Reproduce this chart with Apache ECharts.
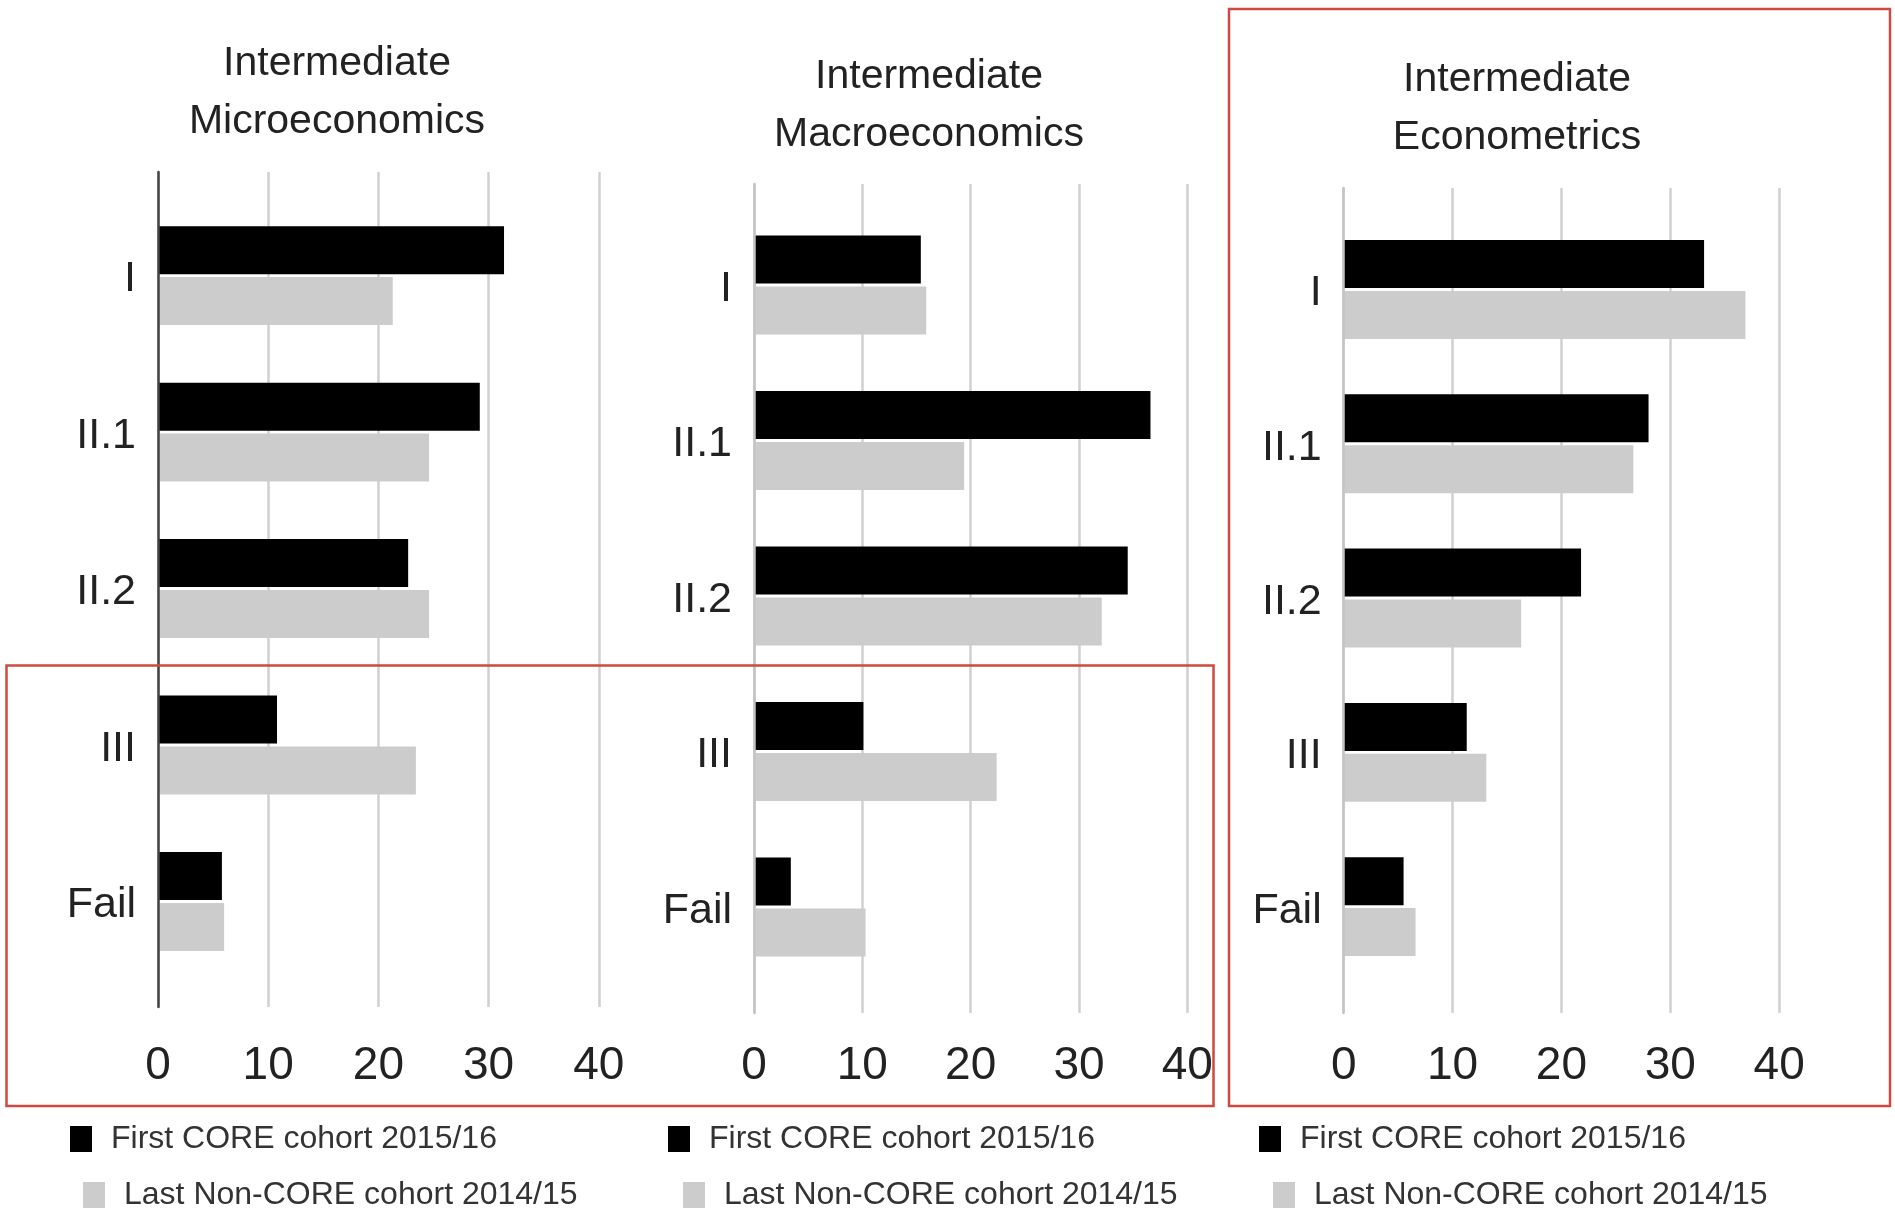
<!DOCTYPE html>
<html>
<head>
<meta charset="utf-8">
<title>Degree classifications by cohort</title>
<script src="https://cdn.jsdelivr.net/npm/echarts@6/dist/echarts.min.js"></script>
<style>
  html, body { margin: 0; padding: 0; background: #ffffff; }
  #chart { width: 1895px; height: 1217px; }
</style>
</head>
<body>
<div id="chart"></div>
<script>
// Degree classes (top to bottom) and the share of students (%) in each
const categories = ['I', 'II.1', 'II.2', 'III', 'Fail'];

const seriesNames = ['First CORE cohort 2015/16', 'Last Non-CORE cohort 2014/15'];

const microFirst = [31.4, 29.2, 22.7, 10.8, 5.8];
const microLast  = [21.3, 24.6, 24.6, 23.4, 6.0];

const macroFirst = [15.4, 36.6, 34.5, 10.1, 3.4];
const macroLast  = [15.9, 19.4, 32.1, 22.4, 10.3];

const econFirst = [33.1, 28.0, 21.8, 11.3, 5.5];
const econLast  = [36.9, 26.6, 16.3, 13.1, 6.6];

const panelTitles = [
  'Intermediate\nMicroeconomics',
  'Intermediate\nMacroeconomics',
  'Intermediate\nEconometrics'
];

const xMin = 0, xMax = 40, xStep = 10;

const FONT = '"Liberation Sans", Arial, sans-serif';
const COLOR_FIRST = '#000000';
const COLOR_LAST = '#cccccc';
const TEXT = '#222222';

// layout of each small panel (frame = gridline/axis area, bars = band area)
const panels = [
  { first: microFirst, last: microLast, left: 158, width: 440.8,
    frameTop: 172, frameH: 835, barTop: 197.4, barH: 782.3,
    baseColor: '#444444', labelMargin: 36,
    titleX: 337, titleTop: 35, titleLH: 58,
    legend: [{ left: 70, top: 1123 }, { left: 83, top: 1179 }] },
  { first: macroFirst, last: macroLast, left: 754, width: 433.3,
    frameTop: 184, frameH: 829, barTop: 207.3, barH: 777.5,
    baseColor: '#c4c4c4', labelMargin: 30,
    titleX: 929, titleTop: 48, titleLH: 58,
    legend: [{ left: 668, top: 1123 }, { left: 683, top: 1179 }] },
  { first: econFirst, last: econLast, left: 1343.7, width: 435.5,
    frameTop: 188, frameH: 825, barTop: 212.3, barH: 771.5,
    baseColor: '#c4c4c4', labelMargin: 30,
    titleX: 1517, titleTop: 51, titleLH: 58,
    legend: [{ left: 1259, top: 1123 }, { left: 1273, top: 1179 }] }
];

const grid = [], xAxis = [], yAxis = [], series = [], title = [], legend = [];

panels.forEach(function (p, i) {
  const frameIdx = grid.length;
  // frame grid: vertical gridlines, value labels and the zero baseline
  grid.push({ left: p.left, width: p.width, top: p.frameTop, height: p.frameH });
  xAxis.push({
    gridIndex: frameIdx, type: 'value', min: xMin, max: xMax, interval: xStep,
    axisLine: { show: false }, axisTick: { show: false },
    splitLine: { show: true, lineStyle: { color: '#d0d0d0', width: 2.5 } },
    axisLabel: { show: true, margin: p.labelMargin, fontSize: 46, color: TEXT, fontFamily: FONT }
  });
  yAxis.push({
    gridIndex: frameIdx, type: 'category', data: categories, inverse: true, z: 5,
    axisLine: { show: true, lineStyle: { color: p.baseColor, width: 2.5 } },
    axisTick: { show: false }, axisLabel: { show: false }, splitLine: { show: false }
  });

  const barIdx = grid.length;
  // bar grid: category bands and the bars themselves
  grid.push({ left: p.left, width: p.width, top: p.barTop, height: p.barH });
  xAxis.push({
    gridIndex: barIdx, type: 'value', min: xMin, max: xMax, interval: xStep, show: false
  });
  yAxis.push({
    gridIndex: barIdx, type: 'category', data: categories, inverse: true,
    axisLine: { show: false }, axisTick: { show: false }, splitLine: { show: false },
    axisLabel: {
      show: true, margin: 22, formatter: '{v|{value}}',
      rich: { v: { fontSize: 43, color: TEXT, fontFamily: FONT, padding: [8, 0, 0, 0] } }
    }
  });

  [p.first, p.last].forEach(function (vals, k) {
    series.push({
      name: seriesNames[k], type: 'bar',
      xAxisIndex: barIdx, yAxisIndex: barIdx,
      data: vals, barWidth: 48, barGap: '6%',
      itemStyle: { color: k === 0 ? COLOR_FIRST : COLOR_LAST },
      emphasis: { disabled: true }, z: 3
    });
  });

  title.push({
    text: panelTitles[i], left: p.titleX, top: p.titleTop, textAlign: 'center', padding: 0,
    textStyle: { fontSize: 41, fontWeight: 'normal', color: TEXT, fontFamily: FONT, lineHeight: p.titleLH }
  });

  p.legend.forEach(function (pos, k) {
    legend.push({
      data: [seriesNames[k]], left: pos.left, top: pos.top, padding: 0,
      icon: 'rect', itemWidth: 22, itemHeight: 26,
      selectedMode: false,
      textStyle: { fontSize: 32, color: '#333333', fontFamily: FONT, padding: [0, 0, 0, 14] }
    });
  });
});

const chart = echarts.init(document.getElementById('chart'), null, { renderer: 'canvas' });
chart.setOption({
  backgroundColor: '#ffffff',
  animation: false,
  title: title,
  legend: legend,
  grid: grid,
  xAxis: xAxis,
  yAxis: yAxis,
  series: series,
  graphic: [
    { type: 'rect', shape: { x: 6.5, y: 665.5, width: 1207, height: 440.5 },
      style: { fill: 'none', stroke: '#cc4a42', lineWidth: 2.5 }, z: 10 },
    { type: 'rect', shape: { x: 1229, y: 9, width: 661, height: 1097 },
      style: { fill: 'none', stroke: '#cc4a42', lineWidth: 2.5 }, z: 10 }
  ]
});
</script>
</body>
</html>
